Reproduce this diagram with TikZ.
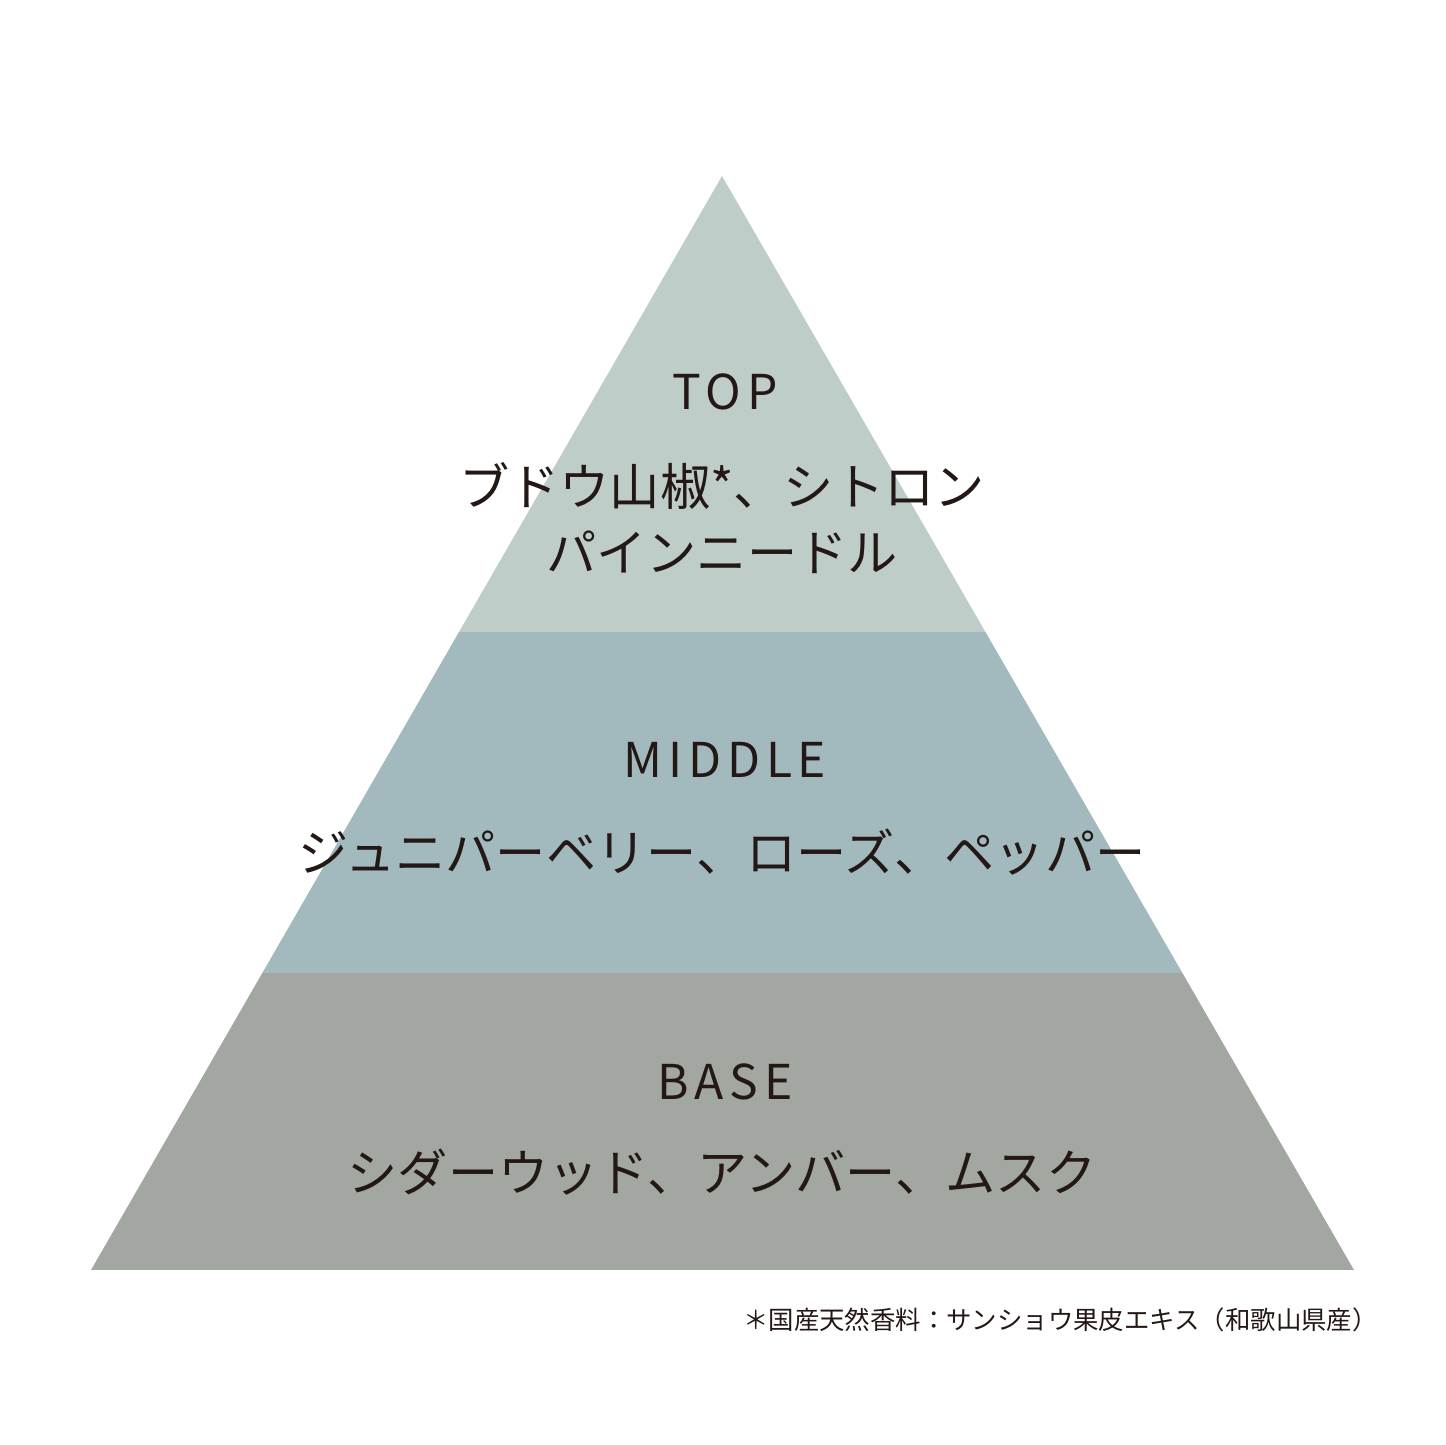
\documentclass[tikz,border=0pt]{standalone}
\usepackage{fontspec}
\setmainfont{Noto Sans CJK JP}
\newfontfamily\latinfont[LetterSpace=12]{Noto Sans CJK JP}
\usetikzlibrary{positioning}
\definecolor{ink}{HTML}{231815}
\definecolor{topband}{HTML}{BFCDC8}
\definecolor{midband}{HTML}{A2BABD}
\definecolor{baseband}{HTML}{A3A7A1}

\begin{document}
\begin{tikzpicture}[x=0.5pt, y=-0.5pt,
			title/.style={text=ink, inner sep=0pt, font=\latinfont\fontsize{24}{28}\selectfont},
			notes/.style={text=ink, inner sep=0pt, align=center, font=\fontsize{25.1}{33}\selectfont}]
			\useasboundingbox (0,0) rectangle (1445,1445);
			% pyramid bands
			\begin{scope}
				\clip (722,176) -- (1354,1270) -- (91,1270) -- cycle;
				\fill[topband] (0,0) rectangle (1445,632);
				\fill[midband] (0,632) rectangle (1445,973);
				\fill[baseband] (0,973) rectangle (1445,1270);
			\end{scope}
			\node[title](top) at (725,392){TOP};
			\node[notes](topnotes) at (722,518){ブドウ山椒*、シトロン\\パインニードル};
			\node[title](middle) at (725,760){MIDDLE};
			\node[notes](middlenotes) at (722,852){ジュニパーベリー、ローズ、ペッパー};
			\node[title](base) at (725,1082){BASE};
			\node[notes](basenotes) at (722,1172){シダーウッド、アンバー、ムスク};
			\node[text=ink, inner sep=0pt, anchor=east, font=\fontsize{12.7}{15}\selectfont](footnote) at (1378,1320){＊国産天然香料：サンショウ果皮エキス（和歌山県産）};
	\end{tikzpicture}
\end{document}
